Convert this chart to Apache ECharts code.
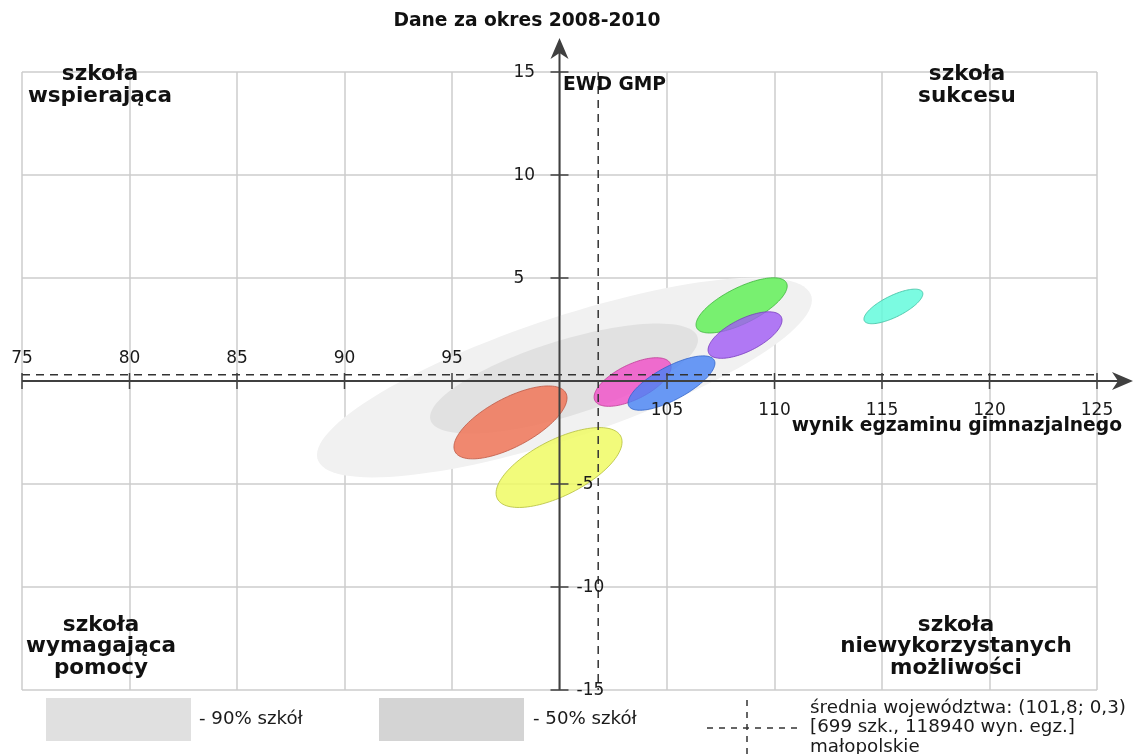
<!DOCTYPE html>
<html>
<head>
<meta charset="utf-8">
<script src="https://cdn.jsdelivr.net/npm/echarts@6/dist/echarts.min.js"></script>
<style>
html,body{margin:0;padding:0;background:#fff;}
#chart{width:1134px;height:754px;}
</style>
</head>
<body>
<div id="chart"></div>
<script>
// ---- data ----
const xTickValues = [75, 80, 85, 90, 95, 105, 110, 115, 120, 125];
const yTickValues = [15, 10, 5, -5, -10, -15];
const meanPoint = [101.8, 0.3];          // średnia województwa
const originPoint = [100, 0];            // axes cross here

// ellipses: 90% schools, 50% schools, then the school's subjects
const ellipseNames = ['90%', '50%', 'e1', 'e2', 'e3', 'e4', 'e5', 'e6', 'e7'];
const ellipseCx    = [100.23, 100.21, 97.72, 99.98, 103.40, 105.21, 108.47, 108.63, 115.53];
const ellipseCy    = [0.17, 0.12, -2.01, -4.20, -0.05, -0.10, 3.67, 2.23, 3.62];
const ellipseHalfW = [11.51, 6.23, 2.63, 2.93, 1.79, 2.02, 2.12, 1.72, 1.37];
const ellipseHalfH = [4.85, 2.67, 1.77, 1.94, 1.18, 1.32, 1.34, 1.13, 0.84];
const ellipseRho   = [0.775, 0.70, 0.67, 0.64, 0.62, 0.73, 0.70, 0.64, 0.73];

const ellipseFill = ['#f1f1f1', '#e1e1e1', 'rgba(240,118,88,0.85)', 'rgba(240,250,100,0.85)',
  'rgba(240,80,200,0.82)', 'rgba(70,130,245,0.8)', 'rgba(90,240,80,0.8)', 'rgba(160,90,245,0.8)',
  'rgba(100,250,220,0.85)'];
const ellipseStroke = [null, null, 'rgba(190,90,70,0.8)', 'rgba(180,190,60,0.8)',
  'rgba(190,60,150,0.8)', 'rgba(50,100,200,0.8)', 'rgba(60,180,60,0.8)', 'rgba(120,60,190,0.8)',
  'rgba(60,190,160,0.8)'];

const FONT = '"DejaVu Sans", Verdana, sans-serif';
const chart = echarts.init(document.getElementById('chart'));

function ellipseItem(params, api) {
  const i = api.value(2);
  const pts = [];
  const N = 120;
  const r = ellipseRho[i], s = Math.sqrt(1 - r * r);
  for (let k = 0; k < N; k++) {
    const t = k / N * Math.PI * 2;
    const x = ellipseCx[i] + ellipseHalfW[i] * Math.cos(t);
    const y = ellipseCy[i] + ellipseHalfH[i] * (r * Math.cos(t) + s * Math.sin(t));
    pts.push(api.coord([x, y]));
  }
  return {
    type: 'polygon',
    shape: { points: pts },
    style: {
      fill: ellipseFill[i],
      stroke: ellipseStroke[i] || 'none',
      lineWidth: ellipseStroke[i] ? 1 : 0
    }
  };
}

function axesItem(params, api) {
  const AX = '#404040';
  const o = api.coord(originPoint);
  const xl = api.coord([75, originPoint[1]]);
  const xr = api.coord([125, originPoint[1]]);
  const yt = api.coord([originPoint[0], 15]);
  const yb = api.coord([originPoint[0], -15]);
  const m = api.coord(meanPoint);
  const children = [];
  // dashed mean lines
  children.push({ type: 'line', shape: { x1: xl[0], y1: m[1], x2: xr[0], y2: m[1] },
    style: { stroke: '#333', lineWidth: 1.5, lineDash: [8, 6] } });
  children.push({ type: 'line', shape: { x1: m[0], y1: yt[1], x2: m[0], y2: yb[1] },
    style: { stroke: '#333', lineWidth: 1.5, lineDash: [8, 6] } });
  // x axis
  const xTip = xr[0] + 36;
  children.push({ type: 'line', shape: { x1: xl[0], y1: o[1], x2: xTip - 12, y2: o[1] },
    style: { stroke: AX, lineWidth: 2 } });
  children.push({ type: 'polygon', shape: { points: [[xTip, o[1]], [xTip - 21, o[1] - 9], [xTip - 15, o[1]], [xTip - 21, o[1] + 9]] },
    style: { fill: AX } });
  // y axis
  const yTip = yt[1] - 34;
  children.push({ type: 'line', shape: { x1: o[0], y1: yb[1], x2: o[0], y2: yTip + 12 },
    style: { stroke: AX, lineWidth: 2 } });
  children.push({ type: 'polygon', shape: { points: [[o[0], yTip], [o[0] - 9, yTip + 21], [o[0], yTip + 15], [o[0] + 9, yTip + 21]] },
    style: { fill: AX } });
  // x ticks + labels
  xTickValues.forEach(v => {
    const p = api.coord([v, originPoint[1]]);
    children.push({ type: 'line', shape: { x1: p[0], y1: p[1] - 8, x2: p[0], y2: p[1] + 8 },
      style: { stroke: AX, lineWidth: 1.5 } });
    children.push({ type: 'text', x: p[0], y: v < originPoint[0] ? p[1] - 22 : p[1] + 30,
      style: { text: String(v), font: '17px ' + FONT, fill: '#1a1a1a', align: 'center', verticalAlign: 'middle' } });
  });
  // y ticks + labels
  yTickValues.forEach(v => {
    const p = api.coord([originPoint[0], v]);
    children.push({ type: 'line', shape: { x1: p[0] - 9, y1: p[1], x2: p[0] + 9, y2: p[1] },
      style: { stroke: AX, lineWidth: 1.5 } });
    children.push({ type: 'text', x: v > 0 ? p[0] - 46 : p[0] + 17, y: p[1] + 1,
      style: { text: String(v), font: '17px ' + FONT, fill: '#1a1a1a', align: 'left', verticalAlign: 'middle' } });
  });
  return { type: 'group', children: children };
}

const boldText = (x, y, text, size, align, lh) => ({
  type: 'text', x: x, y: y, z: 100,
  style: { text: text, font: 'bold ' + size + 'px ' + FONT, fill: '#111', align: align || 'center', verticalAlign: 'middle', lineHeight: lh || size + 3 }
});
const normText = (x, y, text, size) => ({
  type: 'text', x: x, y: y, z: 100,
  style: { text: text, font: size + 'px ' + FONT, fill: '#1a1a1a', align: 'left', verticalAlign: 'middle' }
});

chart.setOption({
  animation: false,
  grid: { left: 22, top: 72, width: 1075, height: 618, containLabel: false },
  xAxis: {
    type: 'value', min: 75, max: 125, interval: 5,
    axisLine: { show: false }, axisTick: { show: false }, axisLabel: { show: false },
    splitLine: { show: true, lineStyle: { color: '#cccccc', width: 1.5 } }
  },
  yAxis: {
    type: 'value', min: -15, max: 15, interval: 5,
    axisLine: { show: false }, axisTick: { show: false }, axisLabel: { show: false },
    splitLine: { show: true, lineStyle: { color: '#cccccc', width: 1.5 } }
  },
  series: [
    {
      type: 'custom', name: 'ellipses', silent: true, z: 2,
      renderItem: ellipseItem,
      data: ellipseCx.map((x, i) => [x, ellipseCy[i], i])
    },
    {
      type: 'custom', name: 'axes', silent: true, z: 5,
      renderItem: axesItem,
      data: [[originPoint[0], originPoint[1]]]
    }
  ],
  graphic: [
    boldText(527, 21, 'Dane za okres 2008-2010', 18.7),
    boldText(563, 85, 'EWD GMP', 18.7, 'left'),
    boldText(1122, 426, 'wynik egzaminu gimnazjalnego', 18.7, 'right'),
    boldText(100, 85, 'szkoła\nwspierająca', 21.5, 'center', 22),
    boldText(967, 85, 'szkoła\nsukcesu', 21.5, 'center', 22),
    boldText(101, 646.5, 'szkoła\nwymagająca\npomocy', 21.5, 'center', 21.5),
    boldText(956, 646.5, 'szkoła\nniewykorzystanych\nmożliwości', 21.5, 'center', 21.5),
    { type: 'rect', shape: { x: 46, y: 698, width: 145, height: 43 }, style: { fill: '#e0e0e0' }, z: 100 },
    normText(199, 719, '- 90% szkół', 18.2),
    { type: 'rect', shape: { x: 379, y: 698, width: 145, height: 43 }, style: { fill: '#d4d4d4' }, z: 100 },
    normText(533, 719, '- 50% szkół', 18.2),
    { type: 'line', shape: { x1: 707, y1: 728, x2: 800, y2: 728 }, style: { stroke: '#333', lineWidth: 1.5, lineDash: [6, 6] }, z: 100 },
    { type: 'line', shape: { x1: 747, y1: 700, x2: 747, y2: 754 }, style: { stroke: '#333', lineWidth: 1.5, lineDash: [6, 6] }, z: 100 },
    normText(810, 708, 'średnia województwa: (101,8; 0,3)', 18.3),
    normText(810, 727.5, '[699 szk., 118940 wyn. egz.]', 18.3),
    normText(810, 747, 'małopolskie', 18.3)
  ]
});
</script>
</body>
</html>
